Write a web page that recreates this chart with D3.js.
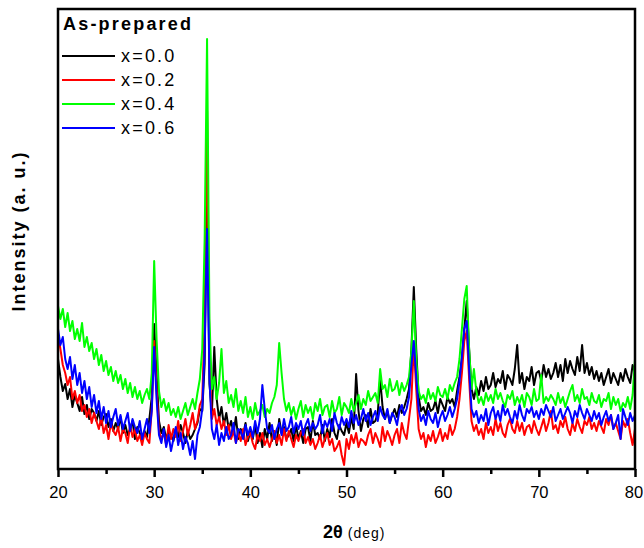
<!DOCTYPE html>
<html>
<head>
<meta charset="utf-8">
<script src="https://cdn.jsdelivr.net/npm/d3@7"></script>
<style>
  body { margin: 0; background: #fff; }
  text { font-family: "Liberation Sans", Arial, sans-serif; }
</style>
</head>
<body>
<script>
// 2theta grid, 0.25 deg steps from 20 to 80
const twoTheta = d3.range(0, 241).map(i => 20 + i * 0.25);

// intensities (arbitrary units), 4 points per degree
const series00 = [
  110, 92, 78, 85, 70, 80, 62, 74, 66, 58, 72, 55, 64, 50, 60, 56, 48, 58, 44, 52,
  55, 42, 50, 38, 46, 40, 52, 36, 44, 34, 40, 48, 30, 42, 36, 28, 38, 32, 50, 72,
  145, 95, 48, 36, 42, 30, 38, 34, 28, 40, 32, 44, 36, 26, 38, 30, 34, 40, 46, 60,
  58, 105, 300, 85, 55, 122, 70, 50, 62, 44, 56, 40, 48, 36, 52, 30, 40, 34, 46, 28,
  38, 30, 44, 26, 36, 22, 40, 30, 46, 28, 38, 24, 50, 36, 42, 30, 34, 40, 28, 44,
  30, 38, 26, 40, 42, 28, 48, 34, 36, 30, 44, 28, 40, 32, 50, 36, 30, 44, 38, 34,
  46, 36, 52, 40, 95, 58, 38, 50, 54, 42, 60, 46, 48, 56, 90, 62, 50, 58, 46, 54,
  60, 52, 64, 56, 62, 70, 80, 120, 182, 120, 72, 58, 62, 54, 66, 58, 60, 68, 56, 70,
  64, 58, 72, 66, 70, 62, 78, 92, 110, 140, 168, 120, 80, 70, 82, 74, 88, 78, 92, 80,
  84, 96, 82, 90, 86, 98, 80, 94, 90, 84, 100, 124, 86, 96, 80, 92, 88, 102, 84, 96,
  98, 88, 104, 92, 100, 90, 96, 106, 92, 104, 88, 110, 96, 108, 100, 94, 112, 98, 124, 96,
  106, 94, 102, 90, 98, 88, 96, 84, 92, 100, 86, 96, 90, 84, 96, 88, 100, 92, 86, 104,
  96
];
const series02 = [
  136, 120, 104, 96, 84, 92, 70, 78, 66, 74, 58, 64, 52, 60, 46, 56, 48, 40, 52, 36,
  44, 30, 46, 38, 34, 42, 28, 40, 36, 26, 44, 32, 40, 28, 34, 24, 36, 30, 26, 60,
  128, 80, 38, 30, 36, 24, 44, 30, 40, 32, 48, 28, 38, 50, 34, 44, 56, 40, 48, 64,
  70, 150, 358, 110, 50, 60, 44, 52, 40, 48, 34, 44, 30, 38, 26, 36, 28, 40, 24, 32,
  36, 26, 20, 34, 28, 36, 24, 30, 22, 30, 38, 26, 34, 24, 40, 28, 38, 30, 22, 34,
  28, 36, 40, 26, 32, 24, 30, 20, 26, 34, 22, 30, 36, 24, 30, 18, 22, 28, 14, 4,
  30, 20, 34, 26, 36, 22, 30, 28, 24, 34, 40, 26, 36, 30, 22, 42, 28, 38, 32, 24,
  34, 40, 26, 46, 36, 30, 50, 70, 124, 80, 40, 30, 36, 22, 34, 28, 38, 26, 32, 40,
  28, 36, 30, 44, 34, 40, 52, 70, 96, 128, 138, 90, 48, 38, 44, 34, 40, 30, 46, 36,
  42, 34, 50, 38, 46, 36, 32, 44, 50, 40, 36, 48, 38, 46, 34, 42, 44, 36, 48, 40,
  34, 42, 50, 38, 46, 58, 40, 44, 36, 48, 42, 52, 40, 34, 46, 38, 50, 42, 36, 48,
  44, 52, 40, 46, 38, 48, 42, 36, 50, 44, 54, 40, 46, 38, 30, 48, 42, 50, 36, 24,
  40
];
const series04 = [
  163, 150, 160, 142, 156, 138, 148, 130, 140, 128, 146, 122, 132, 118, 126, 110, 120, 104, 114, 98,
  108, 94, 102, 88, 98, 86, 94, 80, 90, 76, 86, 72, 82, 70, 78, 66, 74, 80, 70, 96,
  208, 130, 78, 62, 70, 58, 66, 54, 60, 52, 62, 50, 58, 66, 54, 62, 70, 60, 76, 90,
  120, 230, 430, 150, 80, 92, 70, 86, 120, 76, 88, 66, 74, 62, 80, 58, 68, 56, 72, 52,
  62, 50, 66, 54, 58, 64, 52, 60, 56, 66, 72, 84, 126, 96, 70, 58, 66, 54, 62, 50,
  60, 68, 52, 64, 56, 62, 50, 66, 58, 70, 54, 62, 64, 52, 68, 56, 60, 72, 54, 66,
  62, 56, 70, 58, 66, 74, 60, 70, 64, 78, 68, 72, 76, 66, 100, 80, 84, 72, 90, 78,
  80, 88, 74, 86, 78, 84, 92, 118, 168, 110, 78, 70, 74, 66, 80, 70, 76, 68, 82, 74,
  72, 80, 70, 84, 78, 86, 92, 110, 140, 170, 183, 120, 80, 100, 78, 66, 72, 64, 76, 68,
  74, 66, 80, 70, 76, 68, 62, 74, 70, 78, 64, 72, 66, 74, 62, 76, 72, 64, 80, 68,
  70, 94, 66, 72, 68, 74, 70, 64, 76, 66, 72, 62, 70, 78, 84, 68, 74, 66, 80, 70,
  72, 64, 76, 68, 66, 74, 62, 70, 68, 76, 60, 72, 64, 70, 58, 66, 62, 72, 60, 74,
  110
];
const series06 = [
  140, 124, 132, 110, 100, 112, 90, 104, 84, 96, 76, 88, 70, 82, 62, 74, 56, 68, 50, 62,
  46, 58, 42, 52, 60, 44, 54, 40, 48, 56, 38, 50, 42, 36, 48, 30, 40, 50, 36, 58,
  122, 70, 34, 26, 40, 22, 34, 18, 30, 42, 24, 36, 20, 32, 26, 14, 28, 10, 34, 42,
  60, 120, 240, 90, 40, 30, 44, 24, 36, 28, 42, 30, 34, 46, 26, 40, 38, 30, 44, 34,
  42, 32, 48, 36, 50, 84, 60, 40, 36, 44, 30, 40, 46, 34, 50, 38, 42, 52, 36, 46,
  40, 48, 34, 44, 50, 38, 46, 40, 44, 54, 36, 48, 42, 50, 38, 56, 46, 40, 52, 44,
  50, 42, 58, 46, 54, 44, 50, 60, 48, 56, 44, 52, 58, 48, 62, 54, 50, 60, 46, 56,
  52, 44, 58, 64, 54, 60, 72, 104, 128, 92, 60, 48, 54, 44, 58, 50, 46, 56, 42, 52,
  58, 48, 54, 62, 52, 60, 70, 88, 112, 140, 148, 100, 60, 52, 58, 46, 54, 48, 60, 44,
  56, 62, 50, 58, 48, 64, 54, 60, 52, 46, 58, 50, 64, 54, 48, 60, 56, 62, 52, 58,
  50, 60, 54, 64, 58, 52, 62, 48, 54, 60, 50, 56, 62, 56, 46, 58, 52, 64, 56, 50,
  60, 54, 48, 58, 50, 56, 44, 52, 58, 48, 54, 40, 46, 54, 30, 60, 52, 44, 56, 48,
  54
];

const seriesNames = ["x=0.0", "x=0.2", "x=0.4", "x=0.6"];
const seriesColors = ["#000000", "#ff0000", "#00ff00", "#0000ff"];
const allSeries = [series00, series02, series04, series06];
const xTicks = [20, 30, 40, 50, 60, 70, 80];
const xMinorTicks = [25, 35, 45, 55, 65, 75];

const width = 644, height = 548;
const margin = {left: 58, right: 9, top: 9, bottom: 79};

let svg = d3.select('body')
  .append('svg')
  .attr('width', width)
  .attr('height', height);

let x = d3.scaleLinear()
  .domain([20, 80])
  .range([margin.left, width - margin.right]);

let y = d3.scaleLinear()
  .domain([0, 460])
  .range([height - margin.bottom, margin.top]);

// clip so nothing spills past the frame
svg.append('clipPath').attr('id', 'plotclip')
  .append('rect')
  .attr('x', margin.left)
  .attr('y', margin.top)
  .attr('width', width - margin.left - margin.right)
  .attr('height', height - margin.top - margin.bottom);

let line = d3.line()
  .x(function (d, i) { return x(twoTheta[i]); })
  .y(function (d) { return y(d); });

let lines = svg.append('g').attr('clip-path', 'url(#plotclip)');
allSeries.forEach(function (s, k) {
  lines.append('path')
    .attr('fill', 'none')
    .attr('stroke', seriesColors[k])
    .attr('stroke-width', 2)
    .attr('stroke-linejoin', 'round')
    .attr('d', line(s));
});

// bottom axis: major ticks with labels, minor ticks without
let xAxis = svg.append('g')
  .attr('transform', 'translate(0,' + (height - margin.bottom) + ')')
  .call(d3.axisBottom(x).tickValues(xTicks).tickSize(8).tickSizeOuter(0).tickPadding(9));
xAxis.select('.domain').remove();
xAxis.selectAll('line').attr('stroke-width', 2.5);
xAxis.selectAll('text')
  .attr('font-size', 16.5)
  .attr('font-family', '"Liberation Sans", Arial, sans-serif')
  .attr('fill', '#000');
// last label sits right at the page edge, pull it in a touch
xAxis.selectAll('text').filter(d => d === 80).attr('dx', -1.5);

let xMinor = svg.append('g')
  .attr('transform', 'translate(0,' + (height - margin.bottom) + ')')
  .call(d3.axisBottom(x).tickValues(xMinorTicks).tickSize(5).tickFormat(''));
xMinor.select('.domain').remove();
xMinor.selectAll('line').attr('stroke-width', 2.5);

// frame
svg.append('rect')
  .attr('x', margin.left)
  .attr('y', margin.top)
  .attr('width', width - margin.left - margin.right)
  .attr('height', height - margin.top - margin.bottom)
  .attr('fill', 'none')
  .attr('stroke', '#000')
  .attr('stroke-width', 2.5);

// axis titles
let xt = svg.append('text')
  .attr('x', 323)
  .attr('y', height - 10)
  .attr('fill', '#000');
xt.append('tspan').attr('font-size', 18).attr('font-weight', 'bold').text('2θ');
xt.append('tspan').attr('font-size', 14).attr('dx', 5).attr('letter-spacing', 1).text('(deg)');

svg.append('text')
  .attr('transform', 'translate(25,' + 231 + ') rotate(-90)')
  .attr('text-anchor', 'middle')
  .attr('font-size', 18)
  .attr('font-weight', 'bold')
  .attr('letter-spacing', 2)
  .attr('fill', '#000')
  .text('Intensity (a. u.)');

// legend
let legend = svg.append('g');
legend.append('text')
  .attr('x', 63)
  .attr('y', 30)
  .attr('font-size', 18)
  .attr('font-weight', 'bold')
  .attr('letter-spacing', 2.2)
  .text('As-prepared');

seriesNames.forEach(function (name, k) {
  let ly = 56 + k * 24;
  legend.append('line')
    .attr('x1', 62).attr('x2', 115)
    .attr('y1', ly).attr('y2', ly)
    .attr('stroke', seriesColors[k])
    .attr('stroke-width', 2);
  legend.append('text')
    .attr('x', 121)
    .attr('y', ly + 6)
    .attr('font-size', 18)
    .attr('letter-spacing', 2.2)
    .text(name);
});
</script>
</body>
</html>
